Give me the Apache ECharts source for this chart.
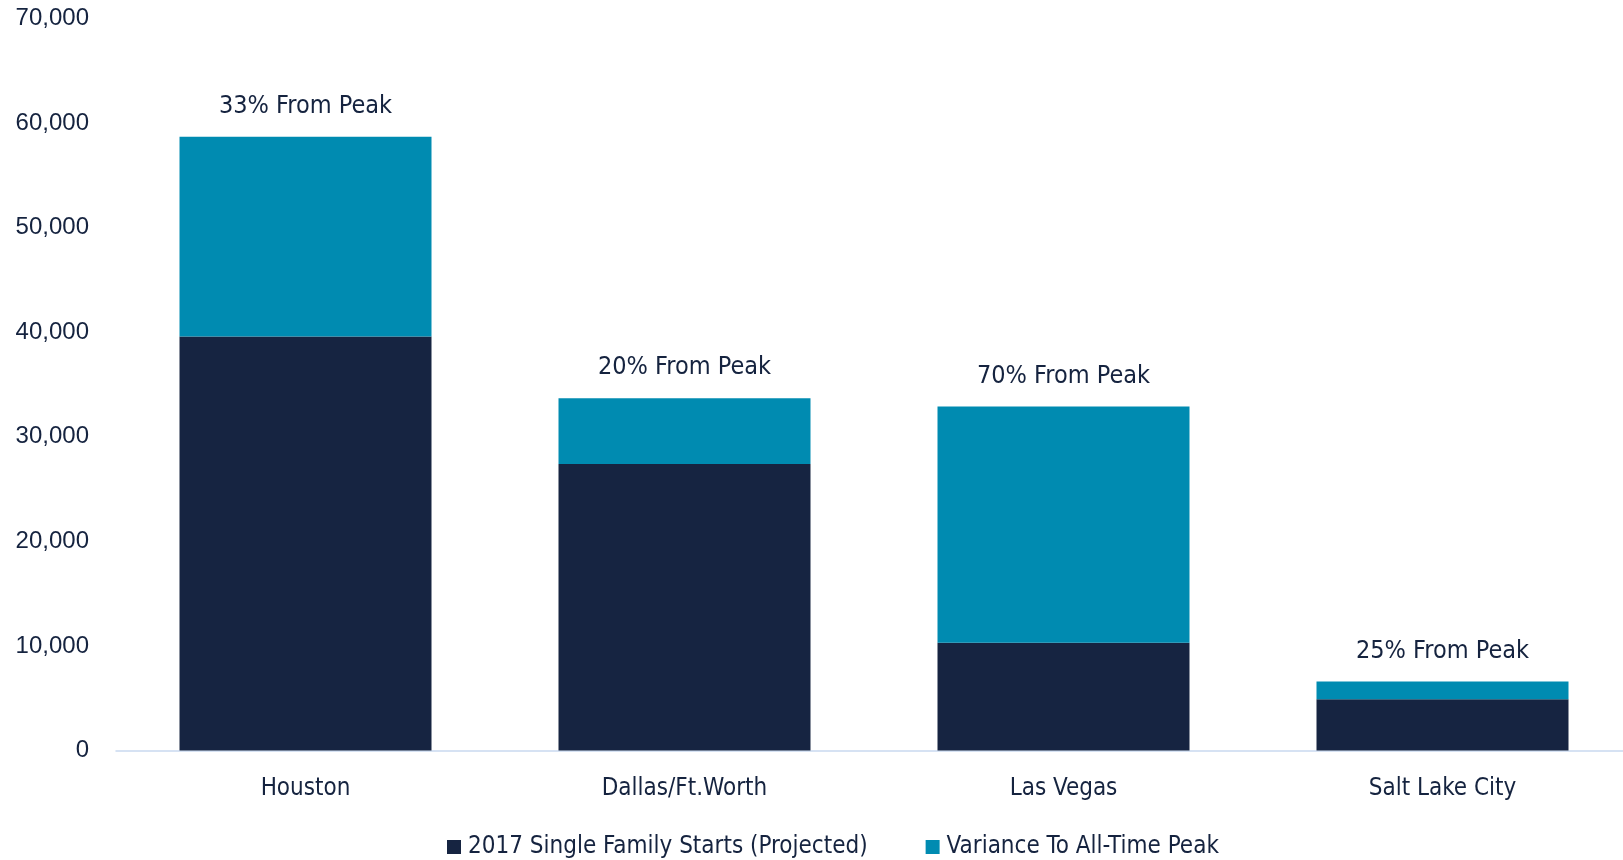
<!DOCTYPE html>
<html>
<head>
<meta charset="utf-8">
<script src="https://cdn.jsdelivr.net/npm/echarts@6/dist/echarts.min.js"></script>
<style>
  html, body { margin: 0; padding: 0; background: #ffffff; }
  #chart { width: 1623px; height: 860px; }
</style>
</head>
<body>
<div id="chart"></div>
<script>
// Metro areas on the category axis
const markets = ['Houston', 'Dallas/Ft.Worth', 'Las Vegas', 'Salt Lake City'];
// 2017 projected single-family starts
const starts2017 = [39600, 27400, 10300, 4900];
// Gap between the 2017 projection and the all-time peak
const varianceToPeak = [19100, 6300, 22600, 1700];
// Annotation placed above each stacked bar
const peakLabels = ['33% From Peak', '20% From Peak', '70% From Peak', '25% From Peak'];
// Value-axis range
const yMin = 0, yMax = 70000, yStep = 10000;

const NAVY = '#162441';
const TEAL = '#008bb1';
const TEXT = '#15233f';
const NARROW = '"Liberation Sans Narrow", "Arial Narrow", "DejaVu Sans Condensed", sans-serif';
const REGULAR = '"Liberation Sans", Arial, sans-serif';

const chart = echarts.init(document.getElementById('chart'), null, { renderer: 'canvas' });

chart.setOption({
  backgroundColor: '#ffffff',
  animation: false,
  grid: {
    left: 116, width: 1516, top: 18.7, bottom: 109.5,
    containLabel: false,
    outerBoundsMode: 'none'
  },
  legend: {
    left: 442,
    top: 830,
    itemWidth: 14,
    itemHeight: 14,
    itemGap: 58,
    icon: 'rect',
    textStyle: { fontFamily: NARROW, fontSize: 24, color: TEXT, padding: [0, 0, 0, 2] },
    data: ['2017 Single Family Starts (Projected)', 'Variance To All-Time Peak']
  },
  xAxis: {
    type: 'category',
    data: markets,
    axisLine: { show: true, lineStyle: { color: '#c9d9ef', width: 1.5 } },
    axisTick: { show: false },
    axisLabel: { fontFamily: NARROW, fontSize: 24, color: TEXT, margin: 26 }
  },
  yAxis: {
    type: 'value',
    min: yMin,
    max: yMax,
    interval: yStep,
    axisLine: { show: false },
    axisTick: { show: false },
    splitLine: { show: false },
    axisLabel: {
      fontFamily: REGULAR, fontSize: 24, color: TEXT, margin: 27,
      padding: [5, 0, 0, 0],
      formatter: v => v.toLocaleString('en-US')
    }
  },
  series: [
    {
      name: '2017 Single Family Starts (Projected)',
      type: 'bar',
      stack: 'total',
      barWidth: 252,
      itemStyle: { color: NAVY },
      data: starts2017
    },
    {
      name: 'Variance To All-Time Peak',
      type: 'bar',
      stack: 'total',
      barWidth: 252,
      itemStyle: { color: TEAL },
      label: {
        show: true,
        position: 'top',
        distance: 18,
        fontFamily: NARROW,
        fontSize: 25,
        color: TEXT,
        formatter: p => peakLabels[p.dataIndex]
      },
      data: varianceToPeak
    }
  ]
});
</script>
</body>
</html>
